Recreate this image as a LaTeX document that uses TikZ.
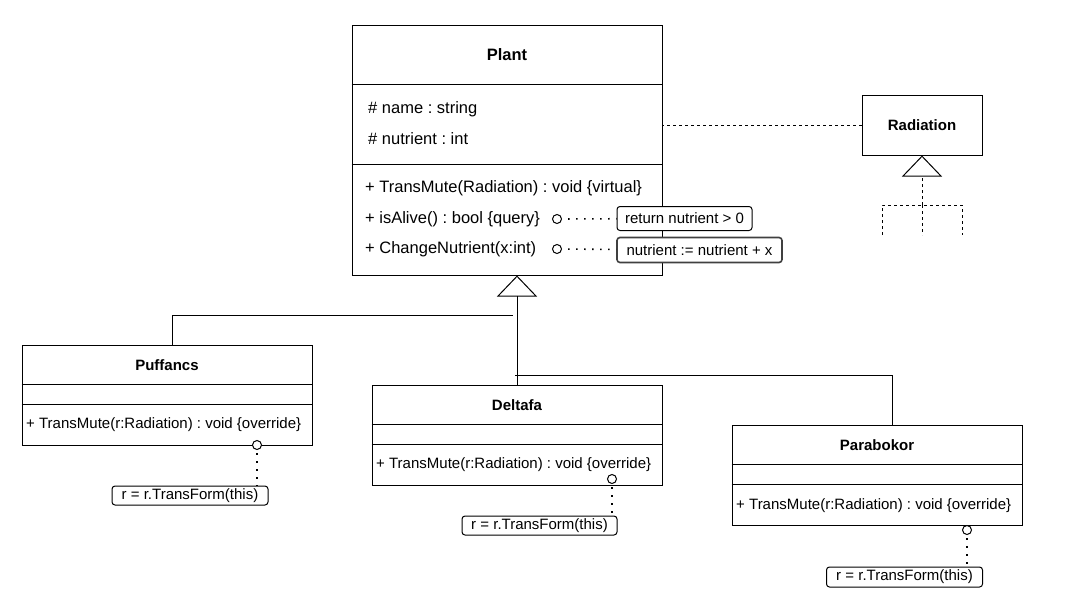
\documentclass[tikz,border=0pt]{standalone}
\usepackage{fontspec}
\setmainfont{Liberation Sans}
\usetikzlibrary{positioning}
\usetikzlibrary{arrows.meta}
\frenchspacing

\tikzset{
  classbox/.style={draw=black, line width=1pt, fill=white, inner sep=0pt},
  classname/.style={font=\fontsize{15}{18}\selectfont\bfseries, inner sep=0pt},
  bigname/.style={font=\fontsize{16.5}{20}\selectfont\bfseries, inner sep=0pt},
  membertext/.style={font=\fontsize{15}{18}\selectfont, inner sep=0pt, anchor=west},
  bigmember/.style={font=\fontsize{16.5}{20}\selectfont, inner sep=0pt, anchor=west},
  notebox/.style={draw=black, line width=1pt, rounded corners=3pt, fill=white, inner sep=0pt, font=\fontsize{15}{18}\selectfont},
  ringnode/.style={circle, draw=black, line width=1pt, fill=white, minimum size=9pt, inner sep=0pt},
  noteline/.style={line width=1.6pt, dash pattern=on 1.6pt off 6.4pt},
  depline/.style={line width=1pt, dash pattern=on 3pt off 3pt},
  genline/.style={line width=1pt},
  gentip/.style={-{Triangle[open, length=21pt, width=40pt]}}
}

\begin{document}
\begin{tikzpicture}[x=1pt, y=-1pt]
\useasboundingbox (0,0) rectangle (1078,608);

%classes
\node[classbox, minimum width=310pt, minimum height=250pt] (plant) at (507,150) {};
\node[classbox, minimum width=120pt, minimum height=60pt] (rad) at (922,125) {};
\node[classbox, minimum width=290pt, minimum height=100pt] (puff) at (167,395) {};
\node[classbox, minimum width=290pt, minimum height=100pt] (delta) at (517,435) {};
\node[classbox, minimum width=290pt, minimum height=100pt] (para) at (877,475) {};

%compartments
\draw[line width=1pt] ([yshift=-60pt]plant.north west) -- ([yshift=-60pt]plant.north east);
\draw[line width=1pt] ([yshift=-140pt]plant.north west) -- ([yshift=-140pt]plant.north east);
\foreach \cls in {puff,delta,para}{
  \draw[line width=1pt] ([yshift=-40pt]\cls.north west) -- ([yshift=-40pt]\cls.north east);
  \draw[line width=1pt] ([yshift=-60pt]\cls.north west) -- ([yshift=-60pt]\cls.north east);
}

%names
\node[bigname] (plantname) at (507,55) {Plant};
\node[classname] (radname) at (922,125) {Radiation};
\node[classname] (puffname) at (167,365) {Puffancs};
\node[classname] (deltaname) at (517,405) {Deltafa};
\node[classname] (paraname) at (877,445) {Parabokor};

%attributes
\node[bigmember] (aname) at (368,109) {\# name : string};
\node[bigmember] (anutr) at (368,139) {\# nutrient : int};
%methods
\node[bigmember] (mtrans) at (365,188) {+ TransMute(Radiation) : void \{virtual\}};
\node[bigmember] (malive) at (365,219) {+ isAlive() : bool \{query\}};
\node[bigmember] (mchange) at (365,249) {+ ChangeNutrient(x:int)};
\node[membertext] (puffm) at (26,425) {+ TransMute(r:Radiation) : void \{override\}};
\node[membertext] (deltam) at (376,465) {+ TransMute(r:Radiation) : void \{override\}};
\node[membertext] (param) at (736,506) {+ TransMute(r:Radiation) : void \{override\}};

%notes
\node[ringnode] (ralive) at (557,219) {};
\node[ringnode] (rchange) at (557,249) {};
\node[notebox, minimum width=135pt, minimum height=24pt] (nalive) at (684.5,218.5) {return nutrient > 0};
\node[notebox, draw=black!75, line width=1.6pt, minimum width=165pt, minimum height=25pt] (nchange) at (699.5,250) {nutrient := nutrient + x};
\draw[noteline, shorten <=6pt] (ralive) -- (nalive);
\draw[noteline, shorten <=6pt] (rchange) -- (nchange);

\node[ringnode] (rpuff) at (257,445) {};
\node[notebox, minimum width=156pt, minimum height=19pt] (npuff) at (190,495.5) {r = r.TransForm(this)};
\draw[noteline, shorten <=3pt] (rpuff) -- (rpuff |- npuff.north);
\node[ringnode] (rdelta) at (612,479) {};
\node[notebox, minimum width=155pt, minimum height=19pt] (ndelta) at (539.5,525.5) {r = r.TransForm(this)};
\draw[noteline, shorten <=3pt] (rdelta) -- (rdelta |- ndelta.north);
\node[ringnode] (rpara) at (967,530) {};
\node[notebox, minimum width=156pt, minimum height=20pt] (npara) at (904.5,577) {r = r.TransForm(this)};
\draw[noteline, shorten <=3pt] (rpara) -- (rpara |- npara.north);

%generalization
\draw[genline, gentip] (delta.north) -- (delta.north |- plant.south);
\coordinate (jpuff) at (513,315);
\draw[genline] ([xshift=5pt]puff.north) |- (jpuff);
\coordinate (jpara) at (515,375);
\draw[genline] (jpara) -| ([xshift=15pt]para.north);

%dependency
\draw[depline] (rad.west) -- (rad.west -| plant.east);
%radiation subclasses
\coordinate (rfork) at (922,205);
\draw[depline, gentip] (rfork) -- (rad.south);
\coordinate (rleft) at (882,235);
\coordinate (rmid) at (922,235);
\coordinate (rright) at (962,235);
\draw[depline] (rleft) |- (rfork) -| (rright);
\draw[depline] (rfork) -- (rmid);

\end{tikzpicture}
\end{document}
